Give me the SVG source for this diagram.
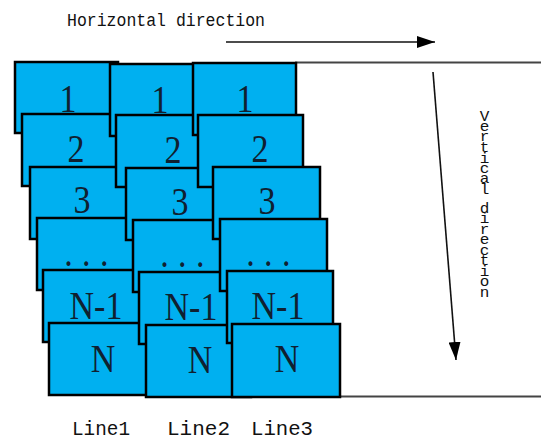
<svg xmlns="http://www.w3.org/2000/svg" width="541" height="441" viewBox="0 0 541 441">
<style>
.b{fill:#00B0F0;stroke:#000;stroke-width:2.5}
.n{font-family:"Liberation Serif",serif;font-size:40px;fill:#102030;text-anchor:middle}
.d{letter-spacing:11px}
.m{font-family:"Liberation Mono",monospace;fill:#111}
.c{stroke:#111;stroke-width:1.6;fill:none}
</style>
<defs>
<marker id="ah" markerWidth="20" markerHeight="12" refX="18" refY="6" orient="auto" markerUnits="userSpaceOnUse">
<path d="M0,0 L18,6 L0,12 Z" fill="#000"/>
</marker>
</defs>
<rect width="541" height="441" fill="#fff"/>
<text class="m" x="67" y="26" font-size="18" textLength="198" lengthAdjust="spacingAndGlyphs">Horizontal direction</text>
<g id="connectors">
<line class="c" x1="226" y1="42" x2="435" y2="42" marker-end="url(#ah)"/>
<line class="c" x1="433" y1="72" x2="456" y2="360" marker-end="url(#ah)"/>
<line x1="295" y1="62.5" x2="541" y2="62.5" stroke="#444" stroke-width="2"/>
<line x1="340" y1="396.5" x2="541" y2="396.5" stroke="#444" stroke-width="2"/>
</g>
<g transform="translate(484.5,0) scale(1,0.9)">
<text class="m" font-size="16" fill="#222" text-anchor="middle" x="0 0 0 0 0 0 0 0 0 0 0 0 0 0 0 0 0 0" y="134.44 145.56 157.22 168.89 180.56 192.22 203.89 215.56 226.11 236.67 248.33 260 271.67 283.33 295 306.67 318.33 330">Vertical direction</text>
</g>
<g id="col1">
<g id="c1r1"><rect class="b" x="15" y="62" width="103" height="71"/><text class="n" transform="translate(68,112) scale(.85,1)">1</text></g>
<g id="c1r2"><rect class="b" x="22" y="114" width="105" height="72"/><text class="n" transform="translate(76,162) scale(.85,1)">2</text></g>
<g id="c1r3"><rect class="b" x="30" y="167" width="105" height="72"/><text class="n" transform="translate(82,213) scale(.85,1)">3</text></g>
<g id="c1r4"><rect class="b" x="37" y="218" width="105" height="72"/><text class="n d" transform="translate(91,266) scale(.85,1)">...</text></g>
<g id="c1r5"><rect class="b" x="43" y="270" width="105" height="72"/><text class="n" transform="translate(96,319) scale(.85,1)">N-1</text></g>
<g id="c1r6"><rect class="b" x="49" y="323" width="105" height="72"/><text class="n" transform="translate(103,372) scale(.85,1)">N</text></g>
</g>
<g id="col2">
<g id="c2r1"><rect class="b" x="110" y="64" width="105" height="72"/><text class="n" transform="translate(160,113) scale(.85,1)">1</text></g>
<g id="c2r2"><rect class="b" x="116" y="115" width="105" height="72"/><text class="n" transform="translate(173,163) scale(.85,1)">2</text></g>
<g id="c2r3"><rect class="b" x="126" y="168" width="105" height="72"/><text class="n" transform="translate(180,215) scale(.85,1)">3</text></g>
<g id="c2r4"><rect class="b" x="133" y="220" width="105" height="72"/><text class="n d" transform="translate(187,267) scale(.85,1)">...</text></g>
<g id="c2r5"><rect class="b" x="139" y="272" width="105" height="72"/><text class="n" transform="translate(191,320) scale(.85,1)">N-1</text></g>
<g id="c2r6"><rect class="b" x="146" y="325" width="105" height="72"/><text class="n" transform="translate(200,373) scale(.85,1)">N</text></g>
</g>
<g id="col3">
<g id="c3r1"><rect class="b" x="193" y="63" width="103" height="72"/><text class="n" transform="translate(245,112) scale(.85,1)">1</text></g>
<g id="c3r2"><rect class="b" x="198" y="115" width="105" height="72"/><text class="n" transform="translate(260,162) scale(.85,1)">2</text></g>
<g id="c3r3"><rect class="b" x="213" y="167" width="107" height="72"/><text class="n" transform="translate(267,214) scale(.85,1)">3</text></g>
<g id="c3r4"><rect class="b" x="220" y="219" width="107" height="72"/><text class="n d" transform="translate(273,266) scale(.85,1)">...</text></g>
<g id="c3r5"><rect class="b" x="227" y="271" width="106" height="72"/><text class="n" transform="translate(278,319) scale(.85,1)">N-1</text></g>
<g id="c3r6"><rect class="b" x="232" y="324" width="108" height="73"/><text class="n" transform="translate(287,372) scale(.85,1)">N</text></g>
</g>
<text class="m" x="72" y="435" font-size="21" textLength="58" lengthAdjust="spacingAndGlyphs">Line1</text>
<text class="m" x="167" y="435" font-size="21" textLength="63" lengthAdjust="spacingAndGlyphs">Line2</text>
<text class="m" x="251" y="435" font-size="21" textLength="62" lengthAdjust="spacingAndGlyphs">Line3</text>
</svg>
